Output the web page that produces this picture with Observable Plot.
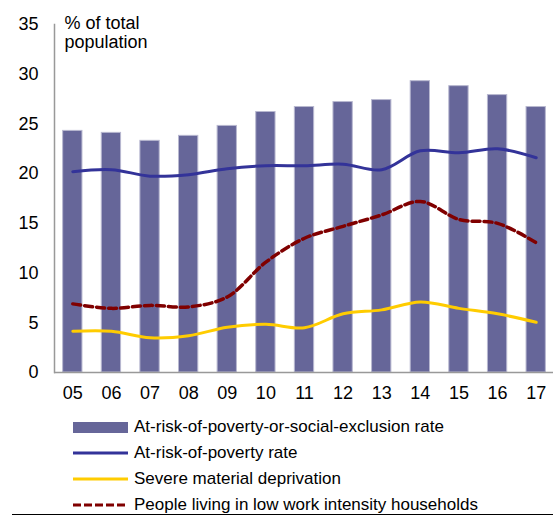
<!DOCTYPE html>
<html>
<head>
<meta charset="utf-8">
<script src="https://cdn.jsdelivr.net/npm/d3@7"></script>
<script src="https://cdn.jsdelivr.net/npm/@observablehq/plot@0.6"></script>
<style>
  body { margin: 0; background: #fff; font-family: "Liberation Sans", Arial, sans-serif; }
  #wrap { position: relative; width: 553px; height: 516px; overflow: hidden; }
  #legend { position: absolute; left: 0; top: 410px; width: 553px; }
  .row { position: absolute; left: 73px; height: 26px; display: flex; align-items: center; font-size: 17px; color: #000; white-space: nowrap; }
  .sw { width: 55px; margin-right: 6px; flex: none; }
  #rule { position: absolute; left: 12px; top: 514px; width: 541px; height: 1px; background: #000; }
</style>
</head>
<body>
<div id="wrap">
  <div id="chart"></div>
  <div id="legend"></div>
  <div id="rule"></div>
</div>
<script>
const years = ["05","06","07","08","09","10","11","12","13","14","15","16","17"];
const aropeRate = [24.3, 24.1, 23.3, 23.8, 24.8, 26.2, 26.7, 27.2, 27.4, 29.3, 28.8, 27.9, 26.7];
const povertyRate = [20.2, 20.4, 19.75, 19.9, 20.5, 20.8, 20.8, 20.95, 20.4, 22.3, 22.1, 22.5, 21.6];
const deprivation = [4.15, 4.15, 3.5, 3.7, 4.55, 4.85, 4.5, 5.9, 6.3, 7.1, 6.45, 5.9, 5.05];
const lowWork = [6.9, 6.45, 6.75, 6.6, 7.6, 11.1, 13.5, 14.7, 15.85, 17.2, 15.4, 15.0, 13.05];
const seriesNames = [
  "At-risk-of-poverty-or-social-exclusion rate",
  "At-risk-of-poverty rate",
  "Severe material deprivation",
  "People living in low work intensity households"
];
const yTicks = [0, 5, 10, 15, 20, 25, 30, 35];

const bars = years.map((y, i) => ({year: y, value: aropeRate[i]}));
const pov = years.map((y, i) => ({year: y, value: povertyRate[i]}));
const dep = years.map((y, i) => ({year: y, value: deprivation[i]}));
const low = years.map((y, i) => ({year: y, value: lowWork[i]}));

const chart = Plot.plot({
  width: 553,
  height: 410,
  marginLeft: 54,
  marginRight: 0,
  marginTop: 24,
  marginBottom: 38,
  style: {fontFamily: "'Liberation Sans', Arial, sans-serif", fontSize: "18px", color: "#000", background: "#fff", overflow: "hidden"},
  x: {type: "band", domain: years, range: [53, 555], paddingInner: 0.5, paddingOuter: 0.25, round: false, label: null},
  y: {domain: [0, 35], label: null},
  marks: [
    Plot.barY(bars, {x: "year", y: "value", fill: "#666699", stroke: "#b8b8d0", strokeWidth: 1}),
    Plot.line(pov, {x: "year", y: "value", stroke: "#333399", strokeWidth: 3, curve: "catmull-rom"}),
    Plot.line(dep, {x: "year", y: "value", stroke: "#ffcc00", strokeWidth: 3, curve: "catmull-rom"}),
    Plot.line(low, {x: "year", y: "value", stroke: "#800000", strokeWidth: 3.5, strokeDasharray: "8,4", curve: "catmull-rom"}),
    Plot.frame({anchor: "left", stroke: "#999", strokeWidth: 1.5}),
    Plot.ruleY([0], {stroke: "#999", strokeWidth: 1.5}),
    Plot.axisY(yTicks, {tickSize: 0, tickPadding: 16, fontSize: 18, label: null}),
    Plot.axisX({tickSize: 0, tickPadding: 14, fontSize: 18, label: null}),
    Plot.text(["% of total\npopulation"], {frameAnchor: "top-left", dx: 10, dy: -10, textAnchor: "start", lineAnchor: "top", fontSize: 18, lineHeight: 1.1})
  ]
});
document.getElementById("chart").appendChild(chart);

const legend = document.getElementById("legend");
const swatches = [
  '<div class="sw" style="height:11px;background:#666699"></div>',
  '<svg class="sw" width="55" height="4"><line x1="0" x2="55" y1="2" y2="2" stroke="#333399" stroke-width="3"/></svg>',
  '<svg class="sw" width="55" height="4"><line x1="0" x2="55" y1="2" y2="2" stroke="#ffcc00" stroke-width="3"/></svg>',
  '<svg class="sw" width="55" height="4"><line x1="0" x2="55" y1="2" y2="2" stroke="#800000" stroke-width="3" stroke-dasharray="8,3"/></svg>'
];
seriesNames.forEach((name, i) => {
  const row = document.createElement("div");
  row.className = "row";
  row.style.top = (4 + i * 26) + "px";
  row.innerHTML = swatches[i] + "<span>" + name + "</span>";
  legend.appendChild(row);
});
</script>
</body>
</html>
